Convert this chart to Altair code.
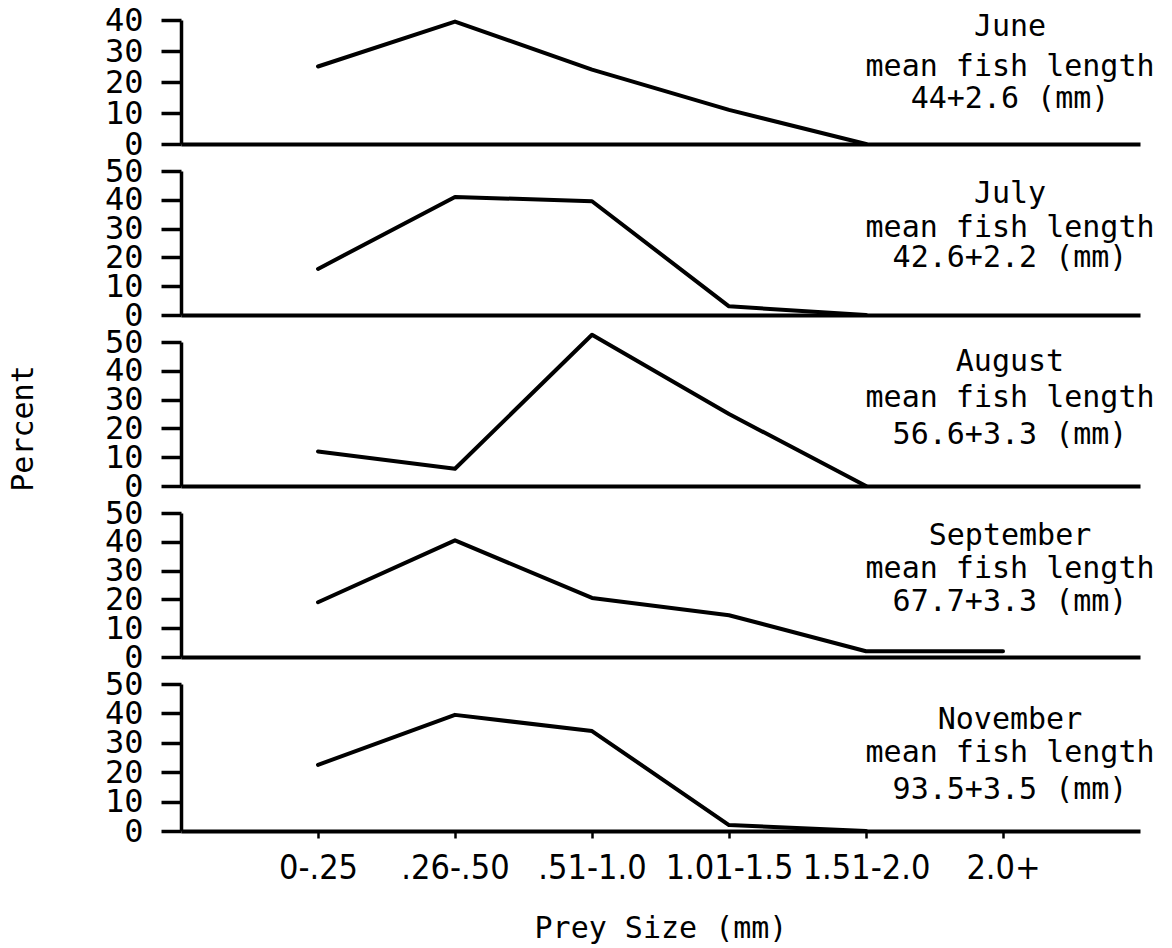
import altair as alt
import pandas as pd

# ---- data ----
categories = ["0-.25", ".26-.50", ".51-1.0", "1.01-1.5", "1.51-2.0", "2.0+"]
months = ["June", "July", "August", "September", "November"]
fish_lengths = ["44+2.6 (mm)", "42.6+2.2 (mm)", "56.6+3.3 (mm)", "67.7+3.3 (mm)", "93.5+3.5 (mm)"]

june = [25, 39.5, 24, 11, 0]
july = [16, 41, 39.5, 3, 0]
august = [12, 6, 52.5, 25, 0]
september = [19, 40.5, 20.5, 14.5, 2, 2]
november = [22.5, 39.5, 34, 2, 0]
series = [june, july, august, september, november]
y_max = [40, 50, 50, 50, 50]

# ---- layout / style ----
MONO = "DejaVu Sans Mono"
NARROW = "Liberation Sans Narrow, DejaVu Sans Condensed, sans-serif"
PLOT_W = 959
heights = [124, 144, 144, 144, 147]
text_base = [[15.5, 55.5, 87.5], [32, 66, 96], [29, 65, 102], [32, 65, 98], [45, 78, 115]]
TEXT_X = 829


def panel(i):
    vals = series[i]
    df = pd.DataFrame({"size": categories[: len(vals)], "pct": vals})
    bottom = i == len(series) - 1
    if bottom:
        xaxis = alt.Axis(
            title="Prey Size (mm)", titleFont=MONO, titleFontSize=30, titleFontWeight="normal",
            titleY=82, titleBaseline="top",
            labelFont=NARROW, labelFontSize=34, labelAngle=0, labelPadding=13,
            labelOverlap=False, ticks=True, tickSize=7, tickWidth=2.5,
            domainWidth=4,
        )
    else:
        xaxis = alt.Axis(labels=False, ticks=False, title=None, domain=True, domainWidth=4)

    ykw = dict(
        values=list(range(0, y_max[i] + 1, 10)),
        labelFont=MONO, labelFontSize=32, labelPadding=18, labelOverlap=False,
        tickSize=20, tickWidth=3.5, domainWidth=3.5,
    )
    if i == 2:
        yaxis = alt.Axis(
            title="Percent", titleFont=MONO, titleFontSize=30, titleFontWeight="normal",
            titleX=-143, titleY=86, titleBaseline="bottom", titleAlign="center", titleAngle=270,
            **ykw,
        )
    else:
        yaxis = alt.Axis(title=None, **ykw)

    line = alt.Chart(df).mark_line(
        color="black", strokeWidth=4, strokeJoin="round", strokeCap="round"
    ).encode(
        x=alt.X("size:O", scale=alt.Scale(type="point", domain=categories, padding=1.02), axis=xaxis),
        y=alt.Y("pct:Q", scale=alt.Scale(domain=[0, y_max[i]], nice=False, zero=True), axis=yaxis),
    )

    lines = [months[i], "mean fish length", fish_lengths[i]]
    texts = []
    for t, yy in zip(lines, text_base[i]):
        texts.append(
            alt.Chart(alt.Data(values=[{"t": t}])).mark_text(
                font=MONO, fontSize=30, align="center", baseline="alphabetic", color="black"
            ).encode(text="t:N", x=alt.value(TEXT_X), y=alt.value(yy))
        )
    return alt.layer(line, *texts).properties(width=PLOT_W, height=heights[i])


chart = (
    alt.vconcat(*[panel(i) for i in range(len(series))], spacing=27, bounds="flush")
    .properties(padding={"left": 0, "top": -4, "right": 5, "bottom": 5}, background="white")
    .configure_view(stroke=None)
    .configure_axis(
        domainColor="black", tickColor="black", labelColor="black", titleColor="black", grid=False
    )
)

chart.save("out.html", embed_options={"renderer": "svg", "actions": False})
